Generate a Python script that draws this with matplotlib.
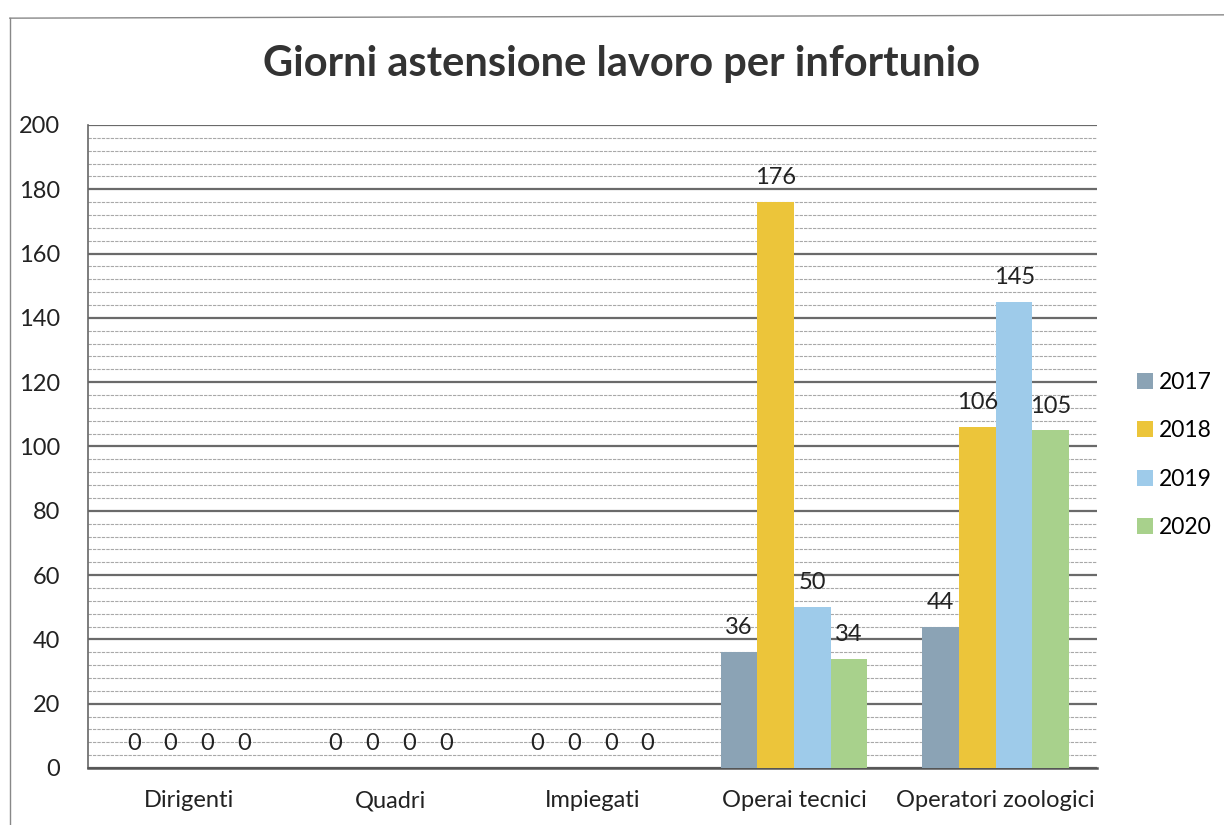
import matplotlib.pyplot as plt
import numpy as np
from matplotlib.ticker import MultipleLocator

categories = ["Dirigenti", "Quadri", "Impiegati", "Operai tecnici", "Operatori zoologici"]
years = ["2017", "2018", "2019", "2020"]
v2017 = [0, 0, 0, 36, 44]
v2018 = [0, 0, 0, 176, 106]
v2019 = [0, 0, 0, 50, 145]
v2020 = [0, 0, 0, 34, 105]
series = [v2017, v2018, v2019, v2020]
colors = ["#8ba3b5", "#ecc53a", "#9ecbea", "#a8d18c"]

plt.rcParams['font.family'] = ['Lato', 'DejaVu Sans']

fig = plt.figure(figsize=(12.24, 8.25), dpi=100)
ax = fig.add_axes([0.0719, 0.0691, 0.8240, 0.7794])

x = np.arange(len(categories))
bw = 0.182
for i, (vals, c, yr) in enumerate(zip(series, colors, years)):
    pos = x + (i - 1.5) * bw
    ax.bar(pos, vals, width=bw, color=c, label=yr, zorder=3)
    for p, v in zip(pos, vals):
        ax.annotate(str(v), (p, v), xytext=(0, 10), textcoords='offset points',
                    ha='center', va='bottom', fontsize=17, color='#222222', zorder=4)

ax.set_xlim(-0.5, len(categories) - 0.5)
ax.set_ylim(0, 200)
ax.yaxis.set_major_locator(MultipleLocator(20))
ax.yaxis.set_minor_locator(MultipleLocator(4))
ax.grid(axis='y', which='major', color='#6a6a6a', linewidth=1.6, zorder=0)
ax.grid(axis='y', which='minor', color='#a8a8a8', linewidth=0.8, linestyle=(0, (3, 1)), zorder=0)
ax.set_xticks(x)
ax.set_xticklabels(categories, fontsize=17, color='#222222')
ax.tick_params(axis='x', length=0, pad=16)
ax.tick_params(axis='y', which='both', length=0, labelsize=17, labelcolor='#222222', pad=20)
for s in ['top', 'right']:
    ax.spines[s].set_visible(False)
ax.spines['left'].set_color('#666666')
ax.spines['left'].set_linewidth(1.2)
ax.spines['bottom'].set_color('#555555')
ax.spines['bottom'].set_linewidth(1.8)

fig.text(0.508, 0.922, "Giorni astensione lavoro per infortunio", ha='center', va='center',
         fontsize=30, fontweight='bold', color='#333333')

ax.legend(loc='center left', bbox_to_anchor=(1.02, 0.487), frameon=False, fontsize=16.5,
          handlelength=0.7, handleheight=0.7, labelspacing=1.2, handletextpad=0.25)

# outer chart frame (partial, as in scan)
fig.add_artist(plt.Line2D([0.008, 0.008], [0.0, 0.978], color='#888888', linewidth=1.0))
fig.add_artist(plt.Line2D([0.008, 1.0], [0.978, 0.982], color='#888888', linewidth=1.0))

fig.savefig("out.png", dpi=100)
